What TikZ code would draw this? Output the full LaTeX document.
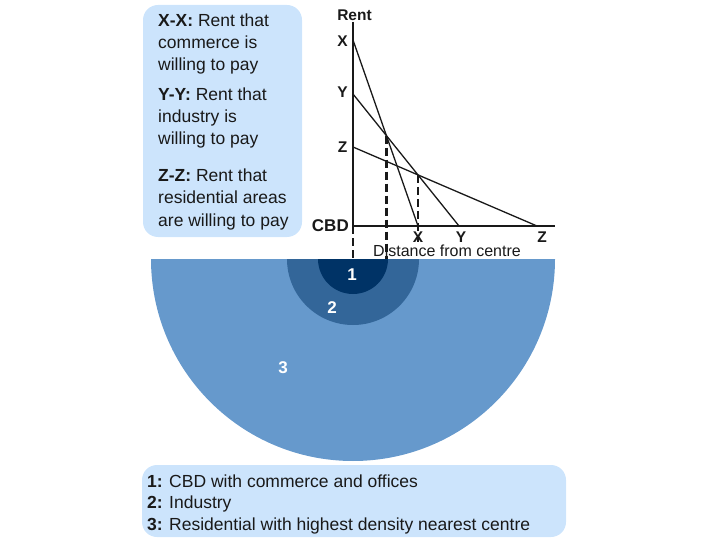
\documentclass[tikz,border=0pt]{standalone}
\usepackage{fontspec}
\setmainfont{Liberation Sans}
\usetikzlibrary{intersections}
\definecolor{boxblue}{RGB}{204,228,252}
\definecolor{ring3}{RGB}{102,153,204}
\definecolor{ring2}{RGB}{51,102,153}
\definecolor{ring1}{RGB}{0,51,102}
\definecolor{txt}{RGB}{25,25,25}
\begin{document}
\begin{tikzpicture}[x=1pt,y=-1pt,
  legend/.style={anchor=base west, inner sep=0pt, font=\fontsize{17.5}{21}\selectfont, text=txt},
  axislabel/.style={font=\bfseries\fontsize{15.5}{17}\selectfont, inner sep=0pt, text=txt},
  zonelabel/.style={font=\bfseries\fontsize{17}{19}\selectfont, text=white, inner sep=0pt},
  rentline/.style={line width=1.3pt, draw=txt},
  axisline/.style={line width=2.4pt, draw=txt},
  guide/.style={dash pattern=on 8pt off 4pt, draw=txt},
  panel/.style={fill=boxblue, rounded corners=15pt}]
\useasboundingbox (0,0) rectangle (720,540);

% top legend box
\fill[panel] (143,5) rectangle (302,237);
\node[legend] (l1) at (158,27)  {\textbf{X-X:} Rent that};
\node[legend] (l2) at (158,49)  {commerce is};
\node[legend] (l3) at (158,71)  {willing to pay};
\node[legend] (l4) at (158,101) {\textbf{Y-Y:} Rent that};
\node[legend] (l5) at (158,123) {industry is};
\node[legend] (l6) at (158,145) {willing to pay};
\node[legend] (l7) at (158,182) {\textbf{Z-Z:} Rent that};
\node[legend] (l8) at (158,204) {residential areas};
\node[legend] (l9) at (158,226) {are willing to pay};

% zones
\coordinate (C) at (353,259);
\begin{scope}
  \clip (100,259) rectangle (620,480);
  \fill[ring3] (C) circle[radius=202pt];
  \fill[ring2] (C) circle[radius=66pt];
  \fill[ring1] (C) circle[radius=35pt];
\end{scope}
\node[zonelabel] (z1) at (352,275) {1};
\node[zonelabel] (z2) at (332,308) {2};
\node[zonelabel] (z3) at (283,368) {3};

% graph
\coordinate (O) at (353,226);
\coordinate (Xt) at (353,40);
\coordinate (Xb) at (418,226);
\coordinate (Yt) at (353,94);
\coordinate (Yb) at (459,226);
\coordinate (Zt) at (353,147);
\coordinate (Zb) at (537,226);
\coordinate (low) at (0,242);

\draw[rentline, name path=xx] (Xt) -- (Xb);
\draw[rentline, name path=yy] (Yt) -- (Yb);
\draw[rentline, name path=zz] (Zt) -- (Zb);
\path[name intersections={of=xx and yy, by=I1}];
\path[name intersections={of=yy and zz, by=I2}];

\draw[guide, line width=2.6pt] (I1) -- (I1 |- C);
\draw[guide, line width=1.6pt] (I2) -- (I2 |- low);
\draw[guide, line width=2pt] (O) -- (C);

\draw[axisline] (353,22) -- (O) -- (555,226);

\node[axislabel] (rent) at (354.5,15) {Rent};
\node[axislabel] (lx) at (342.5,41) {X};
\node[axislabel] (ly) at (342.5,92.5) {Y};
\node[axislabel] (lz) at (342.5,147.5) {Z};
\node[axislabel, font=\bfseries\fontsize{17}{19}\selectfont, anchor=east] (cbd) at (349,226) {CBD};
\node[axislabel] (bx) at (418,237) {X};
\node[axislabel] (by) at (461,237) {Y};
\node[axislabel] (bz) at (542,237) {Z};
\node[inner sep=0pt, font=\fontsize{16}{18}\selectfont, text=txt] (dist) at (447,251) {Distance from centre};

% bottom legend box
\fill[panel] (142,465) rectangle (566,537);
\node[legend] (k1) at (147,487)   {\textbf{1:} CBD with commerce and offices};
\node[legend] (k2) at (147,508.5) {\textbf{2:} Industry};
\node[legend] (k3) at (147,530)   {\textbf{3:} Residential with highest density nearest centre};
\end{tikzpicture}
\end{document}
